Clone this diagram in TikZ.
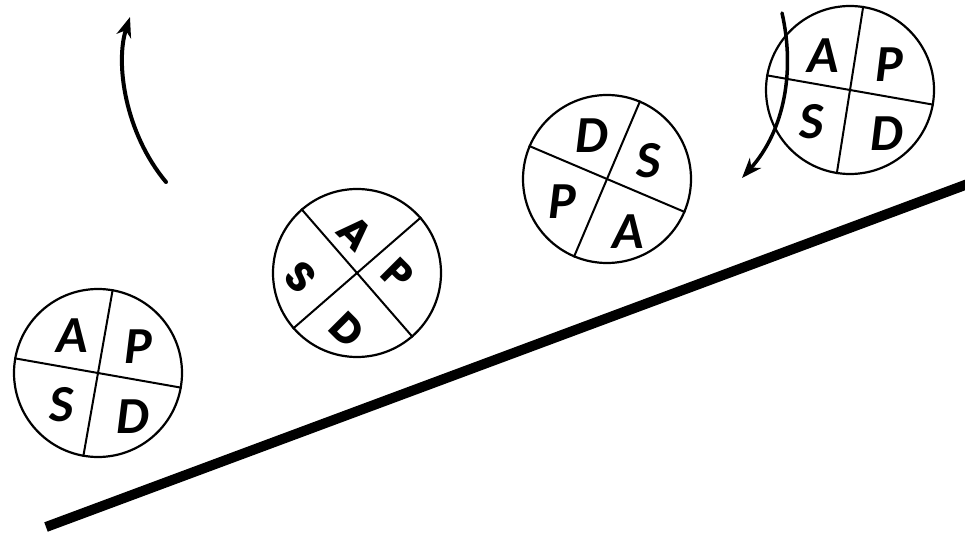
\documentclass[tikz,border=0pt]{standalone}
\usepackage{fontspec}
\setmainfont{Carlito}
\newfontfamily\geo{Poppins}
\usetikzlibrary{arrows.meta}
\begin{document}
\begin{tikzpicture}[x=1pt,y=1pt,
  wheel/.style={circle, draw, line width=2.2pt, minimum size=168pt, inner sep=0pt},
  spoke/.style={line width=2pt},
  lett/.style={font=\fontsize{52}{52}\selectfont\bfseries\itshape, inner sep=0pt},
  lettb/.style={font=\fontsize{41}{41}\selectfont\geo\bfseries, inner sep=0pt, rotate=-45},
  ramp/.style={line width=10pt},
  turn/.style={line width=4pt, line cap=round, -{Stealth[length=20pt,width=15pt,inset=6pt]}}]
\useasboundingbox (0,0) rectangle (965,533);

% ramp
\coordinate (r1) at (46,6);
\coordinate (r2) at (975,351.7);
\draw[ramp] (r1) -- (r2);

% wheel 1
\node[wheel] (w1) at (98,160) {};
\draw[spoke] (w1.-10) -- (w1.170);
\draw[spoke] (w1.80) -- (w1.260);
\node[lett] (w1a) at (72,197) {A};
\node[lett] (w1p) at (138,186) {P};
\node[lett] (w1s) at (62,128) {S};
\node[lett] (w1d) at (133,116) {D};

% wheel 2
\node[wheel] (w2) at (357,260) {};
\draw[spoke] (w2.41) -- (w2.221);
\draw[spoke] (w2.-49) -- (w2.131);
\node[lettb] (w2a) at (355,300) {A};
\node[lettb] (w2p) at (398,259) {P};
\node[lettb] (w2s) at (301,256) {S};
\node[lettb] (w2d) at (347,203) {D};

% wheel 3
\node[wheel] (w3) at (607,354) {};
\draw[spoke] (w3.-23) -- (w3.157);
\draw[spoke] (w3.67) -- (w3.247);
\node[lett] (w3d) at (592,397) {D};
\node[lett] (w3s) at (649,372) {S};
\node[lett] (w3p) at (562,331) {P};
\node[lett] (w3a) at (628,301) {A};

% wheel 4
\node[wheel] (w4) at (850,443) {};
\draw[spoke] (w4.-10) -- (w4.170);
\draw[spoke] (w4.81) -- (w4.261);
\node[lett] (w4a) at (823,477) {A};
\node[lett] (w4p) at (889,468) {P};
\node[lett] (w4s) at (812,411) {S};
\node[lett] (w4d) at (887,399) {D};

% arrows
\coordinate (a1s) at (166,351);
\coordinate (a1e) at (130,516);
\draw[turn] (a1s) .. controls (125,400) and (115,470) .. (a1e);
\coordinate (a2s) at (782,520);
\coordinate (a2e) at (742,355);
\draw[turn, line width=3.5pt] (a2s) .. controls (795,463) and (785,403) .. (a2e);
\end{tikzpicture}
\end{document}
